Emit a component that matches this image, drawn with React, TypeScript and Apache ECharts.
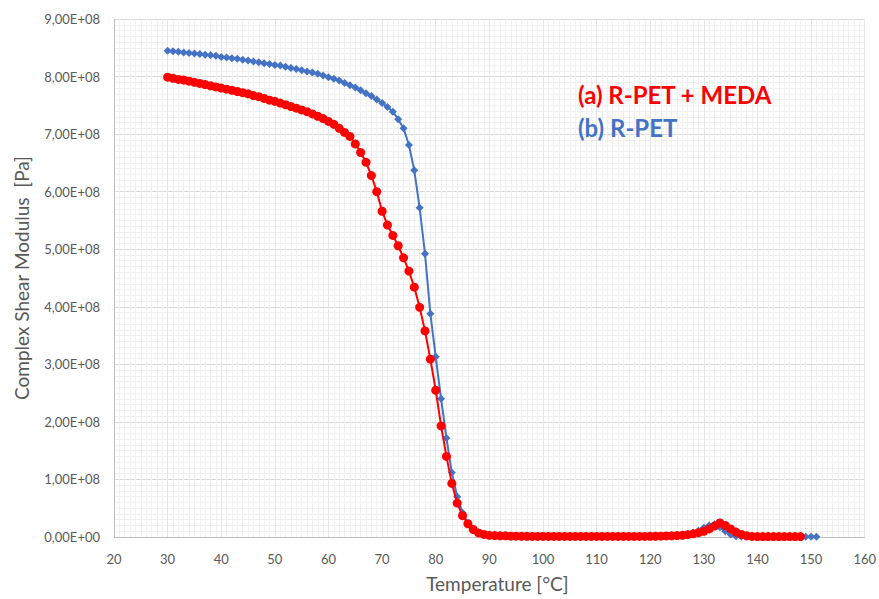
import React, { useEffect, useRef } from "react";
import * as echarts from "echarts";

// Temperatures [°C]
const tempsA: number[] = [
  30, 31, 32, 33, 34, 35, 36, 37, 38, 39, 40, 41, 42, 43, 44, 45, 46, 47, 48, 49,
  50, 51, 52, 53, 54, 55, 56, 57, 58, 59, 60, 61, 62, 63, 64, 65, 66, 67, 68, 69,
  70, 71, 72, 73, 74, 75, 76, 77, 78, 79, 80, 81, 82, 83, 84, 85, 86, 87, 88, 89,
  90, 91, 92, 93, 94, 95, 96, 97, 98, 99, 100, 101, 102, 103, 104, 105, 106, 107, 108, 109,
  110, 111, 112, 113, 114, 115, 116, 117, 118, 119, 120, 121, 122, 123, 124, 125, 126, 127, 128, 129,
  130, 131, 132, 133, 134, 135, 136, 137, 138, 139, 140, 141, 142, 143, 144, 145, 146, 147, 148,
];
// (a) R-PET + MEDA, complex shear modulus in units of 1E+08 Pa
const valuesA: number[] = [
  7.99, 7.97, 7.95, 7.94, 7.92, 7.90, 7.88, 7.86, 7.84, 7.82,
  7.80, 7.78, 7.76, 7.74, 7.72, 7.70, 7.67, 7.65, 7.62, 7.59,
  7.57, 7.54, 7.51, 7.48, 7.45, 7.42, 7.39, 7.35, 7.31, 7.27,
  7.22, 7.17, 7.10, 7.03, 6.96, 6.83, 6.68, 6.51, 6.28, 6.00,
  5.66, 5.42, 5.24, 5.06, 4.85, 4.62, 4.34, 3.99, 3.58, 3.09,
  2.55, 1.93, 1.40, 0.93, 0.59, 0.37, 0.23, 0.13, 0.07, 0.045,
  0.03, 0.025, 0.02, 0.02, 0.015, 0.015, 0.012, 0.012, 0.01, 0.01,
  0.01, 0.01, 0.01, 0.01, 0.01, 0.01, 0.01, 0.01, 0.01, 0.01,
  0.01, 0.01, 0.01, 0.01, 0.01, 0.01, 0.01, 0.01, 0.01, 0.01,
  0.012, 0.013, 0.015, 0.018, 0.02, 0.025, 0.03, 0.04, 0.055, 0.075,
  0.10, 0.14, 0.19, 0.245, 0.20, 0.14, 0.085, 0.045, 0.02, 0.01,
  0.008, 0.008, 0.008, 0.008, 0.008, 0.008, 0.008, 0.008, 0.008,
];
const tempsB: number[] = [
  30, 31, 32, 33, 34, 35, 36, 37, 38, 39, 40, 41, 42, 43, 44, 45, 46, 47, 48, 49,
  50, 51, 52, 53, 54, 55, 56, 57, 58, 59, 60, 61, 62, 63, 64, 65, 66, 67, 68, 69,
  70, 71, 72, 73, 74, 75, 76, 77, 78, 79, 80, 81, 82, 83, 84, 85, 86, 87, 88, 89,
  90, 91, 92, 93, 94, 95, 96, 97, 98, 99, 100, 101, 102, 103, 104, 105, 106, 107, 108, 109,
  110, 111, 112, 113, 114, 115, 116, 117, 118, 119, 120, 121, 122, 123, 124, 125, 126, 127, 128, 129,
  130, 131, 132, 133, 134, 135, 136, 137, 138, 139, 140, 141, 142, 143, 144, 145, 146, 147, 148, 149,
  150, 151,
];
// (b) R-PET
const valuesB: number[] = [
  8.45, 8.44, 8.43, 8.42, 8.41, 8.40, 8.39, 8.38, 8.37, 8.36,
  8.34, 8.33, 8.32, 8.31, 8.29, 8.28, 8.26, 8.25, 8.23, 8.22,
  8.20, 8.19, 8.17, 8.15, 8.13, 8.11, 8.09, 8.07, 8.05, 8.02,
  7.99, 7.96, 7.93, 7.89, 7.85, 7.81, 7.76, 7.71, 7.66, 7.60,
  7.54, 7.47, 7.39, 7.26, 7.10, 6.81, 6.37, 5.72, 4.92, 3.88,
  3.13, 2.40, 1.72, 1.12, 0.70, 0.42, 0.24, 0.13, 0.08, 0.05,
  0.035, 0.03, 0.025, 0.02, 0.02, 0.015, 0.015, 0.012, 0.012, 0.01,
  0.01, 0.01, 0.01, 0.01, 0.01, 0.01, 0.01, 0.01, 0.01, 0.01,
  0.01, 0.01, 0.01, 0.01, 0.01, 0.01, 0.01, 0.01, 0.01, 0.01,
  0.012, 0.013, 0.015, 0.018, 0.02, 0.025, 0.035, 0.05, 0.075, 0.11,
  0.16, 0.20, 0.22, 0.17, 0.10, 0.045, 0.015, 0.008, 0.005, 0.005,
  0.005, 0.005, 0.005, 0.005, 0.005, 0.005, 0.005, 0.005, 0.005, 0.005,
  0.005, 0.005,
];

const seriesNames = ["(a) R-PET + MEDA", "(b) R-PET"];
const xTitle = "Temperature [°C]";
const yTitle = "Complex Shear Modulus  [Pa]";
const SCALE = 1e8;

const fmtY = (v: number) => {
  if (v === 0) return "0,00E+00";
  const exp = Math.floor(Math.log10(Math.abs(v)) + 1e-9);
  const m = v / Math.pow(10, exp);
  return m.toFixed(2).replace(".", ",") + "E+" + String(exp).padStart(2, "0");
};

export default function App() {
  const ref = useRef<HTMLDivElement>(null);
  useEffect(() => {
    if (!ref.current) return;
    const chart = echarts.init(ref.current, undefined, { renderer: "svg" });
    const font = "Lato";
    const dataA = tempsA.map((t, i) => [t, valuesA[i] * SCALE]);
    const dataB = tempsB.map((t, i) => [t, valuesB[i] * SCALE]);
    chart.setOption({
      animation: false,
      backgroundColor: "#ffffff",
      grid: { left: 114, right: 13, top: 19, bottom: 62, containLabel: false },
      xAxis: {
        type: "value",
        min: 20,
        max: 160,
        interval: 10,
        name: xTitle,
        nameLocation: "middle",
        nameGap: 37,
        nameTextStyle: { color: "#595959", fontSize: 19, fontFamily: font, padding: [0, 0, 0, 16] },
        axisLine: { show: true, onZero: false, lineStyle: { color: "#BFBFBF", width: 1 } },
        axisTick: { show: false },
        axisLabel: { color: "#595959", fontSize: 13, fontFamily: font, margin: 15 },
        splitLine: { show: true, lineStyle: { color: "#E6E6E6", width: 1 } },
        minorTick: { show: false, splitNumber: 10 },
        minorSplitLine: { show: true, lineStyle: { color: "#F0F0F0", width: 1 } },
      },
      yAxis: {
        type: "value",
        min: 0,
        max: 9e8,
        interval: 1e8,
        name: yTitle,
        nameLocation: "middle",
        nameGap: 83,
        nameTextStyle: { color: "#595959", fontSize: 19, fontFamily: font },
        axisLine: { show: true, lineStyle: { color: "#BFBFBF", width: 1 } },
        axisTick: { show: false },
        axisLabel: { color: "#595959", fontSize: 13, fontFamily: font, margin: 14, formatter: fmtY },
        splitLine: { show: true, lineStyle: { color: "#D9D9D9", width: 1 } },
        minorTick: { show: false, splitNumber: 10 },
        minorSplitLine: { show: true, lineStyle: { color: "#F0F0F0", width: 1 } },
      },
      series: [
        {
          name: seriesNames[1],
          type: "line",
          data: dataB,
          symbol: "diamond",
          symbolSize: 8,
          lineStyle: { color: "#4472C4", width: 2 },
          itemStyle: { color: "#4472C4" },
          z: 2,
        },
        {
          name: seriesNames[0],
          type: "line",
          data: dataA,
          symbol: "circle",
          symbolSize: 9,
          lineStyle: { color: "#FF0000", width: 2 },
          itemStyle: { color: "#FF0000" },
          z: 3,
        },
      ],
      graphic: [
        {
          type: "text",
          left: 578,
          top: 82,
          z: 10,
          style: {
            text: seriesNames[0],
            fill: "#FF0000",
            fontSize: 24,
            fontWeight: "bold",
            fontFamily: font,
          },
        },
        {
          type: "text",
          left: 578,
          top: 115,
          z: 10,
          style: {
            text: seriesNames[1],
            fill: "#4472C4",
            fontSize: 24,
            fontWeight: "bold",
            fontFamily: font,
          },
        },
      ],
    });
    return () => chart.dispose();
  }, []);
  return <div ref={ref} style={{ width: 879, height: 599, position: "absolute", left: 0, top: 0 }} />;
}
